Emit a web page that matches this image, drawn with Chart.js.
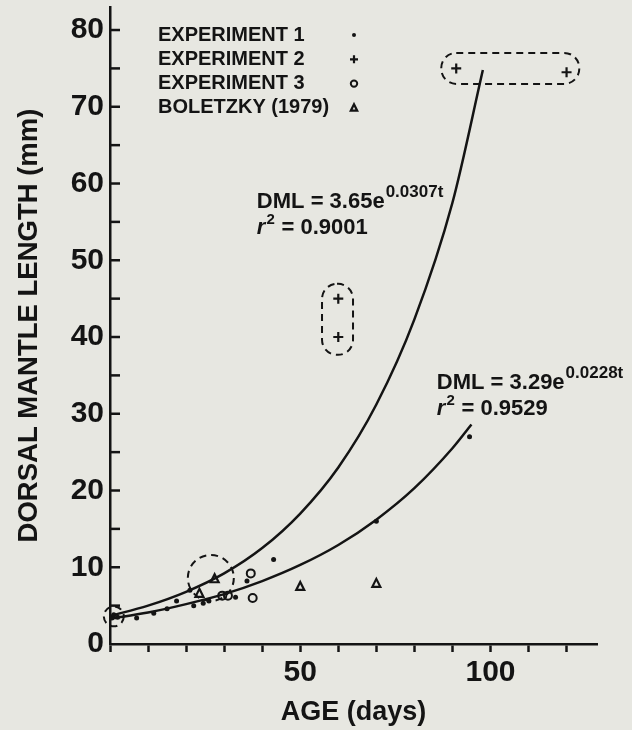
<!DOCTYPE html>
<html>
<head>
<meta charset="utf-8">
<script src="https://cdn.jsdelivr.net/npm/chart.js@4.4.1/dist/chart.umd.min.js"></script>
<style>
  html, body { margin: 0; padding: 0; background: #e7e7e1; }
  canvas { display: block; }
</style>
</head>
<body>
<canvas id="grafico" width="632" height="730"></canvas>
<script>
// values
var exp1Age = [0.5, 1, 2, 7, 11.5, 15, 17.5, 21, 22, 24.5, 26, 33, 36, 43, 70, 94.5];
var exp1Dml = [3.4, 3.8, 3.5, 3.4, 4.0, 4.6, 5.6, 7.0, 5.0, 5.3, 5.6, 6.1, 8.2, 11, 16, 27];

var exp2Age = [60, 60, 91, 120];
var exp2Dml = [45, 40, 75, 74.5];

var exp3Age = [29.5, 31, 37, 37.5];
var exp3Dml = [6.3, 6.3, 9.2, 6.0];

var boleAge = [23.5, 27.5, 50, 70];
var boleDml = [6.6, 8.5, 7.5, 7.9];

// fitted curves
var fit1Age = [0, 10, 20, 30, 40, 50, 60, 70, 80, 90, 98];
var fit1Dml = [3.65, 5.0, 6.8, 9.2, 12.5, 17.0, 23.0, 31.2, 42.3, 57.5, 74.8];
var fit2Age = [0, 10, 20, 30, 40, 50, 60, 70, 80, 90, 95];
var fit2Dml = [3.3, 4.1, 5.2, 6.5, 8.2, 10.3, 12.9, 16.2, 20.3, 25.5, 28.6];

var ageTicks = [0, 10, 20, 30, 40, 50, 60, 70, 80, 90, 100, 110, 120];
var ageLabels = [50, 100];
var dmlTicks = [0, 5, 10, 15, 20, 25, 30, 35, 40, 45, 50, 55, 60, 65, 70, 75, 80];
var dmlLabels = [0, 10, 20, 30, 40, 50, 60, 70, 80];

var seriesNames = ['EXPERIMENT 1', 'EXPERIMENT 2', 'EXPERIMENT 3', 'BOLETZKY (1979)'];
var seriesSymbols = ['dot', 'plus', 'ring', 'tri'];

var fam = '"Liberation Sans", Arial, sans-serif';
var ink = '#141414';

function pares(xs, ys) {
    var out = [];
    for (var i = 0; i < xs.length; i++) out.push({x: xs[i], y: ys[i]});
    return out;
}

function symbol(ctx, kind, x, y, s) {
    s = s || 1;
    ctx.save();
    ctx.strokeStyle = ink;
    ctx.fillStyle = ink;
    ctx.lineWidth = 2.2;
    ctx.beginPath();
    if (kind == 'dot') {
        ctx.arc(x, y, 2.5 * s, 0, Math.PI * 2);
        ctx.fill();
    } else if (kind == 'plus') {
        ctx.moveTo(x - 5 * s, y); ctx.lineTo(x + 5 * s, y);
        ctx.moveTo(x, y - 5 * s); ctx.lineTo(x, y + 5 * s);
        ctx.stroke();
    } else if (kind == 'ring') {
        ctx.lineWidth = 2;
        ctx.arc(x, y, 4 * s, 0, Math.PI * 2);
        ctx.stroke();
    } else {
        ctx.moveTo(x, y - 4.5 * s); ctx.lineTo(x + 4 * s, y + 3.5 * s); ctx.lineTo(x - 4 * s, y + 3.5 * s);
        ctx.closePath();
        ctx.stroke();
    }
    ctx.restore();
}

function roundBox(ctx, cx, cy, w, h, r) {
    var x = cx - w / 2, y = cy - h / 2;
    ctx.beginPath();
    ctx.moveTo(x + r, y);
    ctx.lineTo(x + w - r, y);
    ctx.arcTo(x + w, y, x + w, y + r, r);
    ctx.lineTo(x + w, y + h - r);
    ctx.arcTo(x + w, y + h, x + w - r, y + h, r);
    ctx.lineTo(x + r, y + h);
    ctx.arcTo(x, y + h, x, y + h - r, r);
    ctx.lineTo(x, y + r);
    ctx.arcTo(x, y, x + r, y, r);
    ctx.closePath();
    ctx.stroke();
}

function equacao(ctx, x, y, base, expo, r2) {
    ctx.textBaseline = 'alphabetic';
    ctx.textAlign = 'left';
    ctx.font = 'bold 22px ' + fam;
    ctx.fillText(base, x, y);
    var w = ctx.measureText(base).width;
    ctx.font = 'bold 17px ' + fam;
    ctx.fillText(expo, x + w + 1, y - 11);
    // second line: r^2 = ...
    var y2 = y + 26;
    ctx.font = 'italic bold 22px ' + fam;
    ctx.fillText('r', x, y2);
    var wr = ctx.measureText('r').width;
    ctx.font = 'bold 15px ' + fam;
    ctx.fillText('2', x + wr + 1, y2 - 10);
    ctx.font = 'bold 22px ' + fam;
    ctx.fillText(' = ' + r2, x + wr + 10, y2);
}

var extras = {
    id: 'extras',
    beforeDraw: function(chart) {
        var ctx = chart.ctx;
        ctx.save();
        ctx.fillStyle = '#e7e7e1';
        ctx.fillRect(0, 0, chart.width, chart.height);
        ctx.restore();
    },
    afterDraw: function(chart) {
        var ctx = chart.ctx;
        var sx = chart.scales.x, sy = chart.scales.y;
        var left = chart.chartArea.left;
        ctx.save();
        ctx.strokeStyle = ink;
        ctx.fillStyle = ink;

        // y ticks point into the plot
        ctx.lineWidth = 2.5;
        sy.ticks.forEach(function(t) {
            if (t.value == 0) return;
            var py = sy.getPixelForValue(t.value);
            ctx.beginPath();
            ctx.moveTo(left, py);
            ctx.lineTo(left + 10, py);
            ctx.stroke();
        });

        // dashed groupings
        ctx.lineWidth = 2;
        ctx.setLineDash([7, 5]);
        ctx.beginPath();
        ctx.arc(sx.getPixelForValue(1), sy.getPixelForValue(3.6), 10, 0, Math.PI * 2);
        ctx.stroke();
        ctx.beginPath();
        ctx.arc(sx.getPixelForValue(26.5), sy.getPixelForValue(8.6), 23, 0, Math.PI * 2);
        ctx.stroke();
        roundBox(ctx, sx.getPixelForValue(59.8), sy.getPixelForValue(42.3), 31, 71, 15);
        roundBox(ctx, sx.getPixelForValue(105.2), sy.getPixelForValue(75), 138, 31, 15);
        ctx.setLineDash([]);

        // equations
        equacao(ctx, sx.getPixelForValue(38.6), sy.getPixelForValue(56.8), 'DML = 3.65e', '0.0307t', '0.9001');
        equacao(ctx, sx.getPixelForValue(85.9), sy.getPixelForValue(33.2), 'DML = 3.29e', '0.0228t', '0.9529');

        // legend, symbols on the right
        ctx.font = 'bold 20px ' + fam;
        ctx.textBaseline = 'middle';
        ctx.textAlign = 'left';
        for (var i = 0; i < seriesNames.length; i++) {
            var ly = 35 + i * 24.3;
            ctx.fillText(seriesNames[i], 158, ly);
            symbol(ctx, seriesSymbols[i], 354, ly, 0.8);
        }
        ctx.restore();
    }
};

var pontos = {
    id: 'pontos',
    afterDatasetsDraw: function(chart) {
        var ctx = chart.ctx;
        chart.data.datasets.forEach(function(ds, i) {
            if (!ds.simbolo) return;
            var meta = chart.getDatasetMeta(i);
            meta.data.forEach(function(el) {
                symbol(ctx, ds.simbolo, el.x, el.y, 1);
            });
        });
    }
};

new Chart(document.getElementById('grafico'), {
    type: 'scatter',
    data: {
        datasets: [
            {
                label: 'fit 1',
                data: pares(fit1Age, fit1Dml),
                showLine: true,
                pointRadius: 0,
                borderColor: ink,
                borderWidth: 2.5,
                cubicInterpolationMode: 'monotone',
                clip: false
            },
            {
                label: 'fit 2',
                data: pares(fit2Age, fit2Dml),
                showLine: true,
                pointRadius: 0,
                borderColor: ink,
                borderWidth: 2.5,
                cubicInterpolationMode: 'monotone',
                clip: false
            },
            { label: seriesNames[0], simbolo: seriesSymbols[0], data: pares(exp1Age, exp1Dml), pointRadius: 0, clip: false },
            { label: seriesNames[1], simbolo: seriesSymbols[1], data: pares(exp2Age, exp2Dml), pointRadius: 0, clip: false },
            { label: seriesNames[2], simbolo: seriesSymbols[2], data: pares(exp3Age, exp3Dml), pointRadius: 0, clip: false },
            { label: seriesNames[3], simbolo: seriesSymbols[3], data: pares(boleAge, boleDml), pointRadius: 0, clip: false }
        ]
    },
    options: {
        responsive: false,
        animation: false,
        layout: { padding: { top: 7, right: 35, left: 0, bottom: 0 } },
        plugins: {
            legend: { display: false },
            tooltip: { enabled: false }
        },
        scales: {
            x: {
                type: 'linear',
                min: 0,
                max: 128,
                afterBuildTicks: function(s) {
                    s.ticks = ageTicks.map(function(v) { return {value: v}; });
                },
                afterFit: function(s) {
                    s.height = 86;
                    s.paddingLeft = 0;
                    s.paddingRight = 0;
                },
                ticks: {
                    autoSkip: false,
                    maxRotation: 0,
                    padding: 3,
                    color: ink,
                    font: { family: fam, size: 30, weight: 'bold' },
                    callback: function(v) { return ageLabels.indexOf(v) >= 0 ? String(v) : ''; }
                },
                grid: { drawOnChartArea: false, tickLength: 8, tickWidth: 2.5, tickColor: ink },
                border: { color: ink, width: 2.5 },
                title: {
                    display: true,
                    text: 'AGE (days)',
                    color: ink,
                    font: { family: fam, size: 27, weight: 'bold' },
                    padding: { top: 0, bottom: 1 }
                }
            },
            y: {
                type: 'linear',
                min: 0,
                max: 83,
                afterBuildTicks: function(s) {
                    s.ticks = dmlTicks.map(function(v) { return {value: v}; });
                },
                afterFit: function(s) {
                    s.width = 110;
                    s.paddingTop = 0;
                    s.paddingBottom = 0;
                },
                ticks: {
                    autoSkip: false,
                    padding: 6,
                    color: ink,
                    font: { family: fam, size: 30, weight: 'bold' },
                    callback: function(v) { return dmlLabels.indexOf(v) >= 0 ? String(v) : ''; }
                },
                grid: { drawOnChartArea: false, drawTicks: false },
                border: { color: ink, width: 2.5 },
                title: {
                    display: true,
                    text: 'DORSAL MANTLE LENGTH (mm)',
                    color: ink,
                    font: { family: fam, size: 27.5, weight: 'bold' },
                    padding: { top: 13, bottom: 0 }
                }
            }
        }
    },
    plugins: [extras, pontos]
});
</script>
</body>
</html>
